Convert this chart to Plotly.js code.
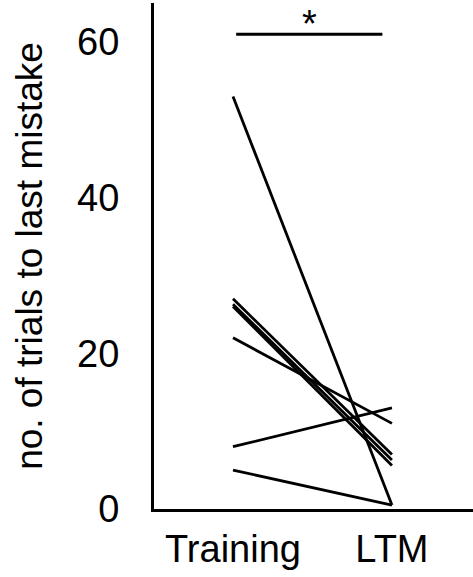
<!DOCTYPE html>
<html>
<head>
<meta charset="utf-8">
<script src="https://cdn.plot.ly/plotly-3.0.1.min.js"></script>
<style>
  html, body { margin: 0; padding: 0; background: #fff; }
  #chart { width: 473px; height: 577px; }
</style>
</head>
<body>
<div id="chart"></div>
<script>
// Dados
const sessoes = ['Training', 'LTM'];
const treino = [53, 27, 26.3, 26, 22, 8, 5];
const ltm = [0.5, 7, 6.3, 5.6, 11, 13, 0.5];
const yTicks = [0, 20, 40, 60];

// Barra de significância
const sigInicio = 0.02;
const sigFim = 0.94;
const sigY = 61;
const sigTexto = '*';

const fonte = 'Liberation Sans, Arial, sans-serif';

// um traço por sujeito
const data = treino.map((v, i) => ({
    x: sessoes,
    y: [v, ltm[i]],
    type: 'scatter',
    mode: 'lines',
    line: { color: '#000', width: 2.8 },
    hoverinfo: 'skip',
    showlegend: false
}));

const layout = {
    width: 473,
    height: 577,
    paper_bgcolor: '#fff',
    plot_bgcolor: '#fff',
    font: { family: fonte, color: '#000', size: 36 },
    margin: { l: 154, r: 0, t: 3, b: 68 },
    showlegend: false,
    xaxis: {
        type: 'category',
        range: [-0.497, 1.51],
        showgrid: false,
        zeroline: false,
        showline: true,
        linecolor: '#000',
        linewidth: 3,
        ticks: 'outside',
        ticklen: 4,
        tickcolor: 'rgba(0,0,0,0)',
        tickfont: { family: fonte, size: 38, color: '#000' },
        fixedrange: true
    },
    yaxis: {
        range: [0, 65],
        tickvals: yTicks,
        ticktext: yTicks.map(String),
        showgrid: false,
        zeroline: false,
        showline: true,
        linecolor: '#000',
        linewidth: 3,
        ticks: 'outside',
        ticklen: 24,
        tickcolor: 'rgba(0,0,0,0)',
        tickfont: { family: fonte, size: 38, color: '#000' },
        title: {
            text: 'no. of trials to last mistake',
            font: { family: fonte, size: 37, color: '#000' },
            standoff: 24
        },
        fixedrange: true
    },
    shapes: [{
        type: 'line',
        xref: 'x', yref: 'y',
        x0: sigInicio, x1: sigFim,
        y0: sigY, y1: sigY,
        line: { color: '#000', width: 3 }
    }],
    annotations: [{
        x: (sigInicio + sigFim) / 2,
        y: 1,
        xref: 'x', yref: 'paper',
        text: sigTexto,
        showarrow: false,
        yanchor: 'top',
        yshift: 2,
        font: { family: fonte, size: 38, color: '#000' }
    }]
};

Plotly.newPlot('chart', data, layout, { displayModeBar: false, staticPlot: true });
</script>
</body>
</html>
